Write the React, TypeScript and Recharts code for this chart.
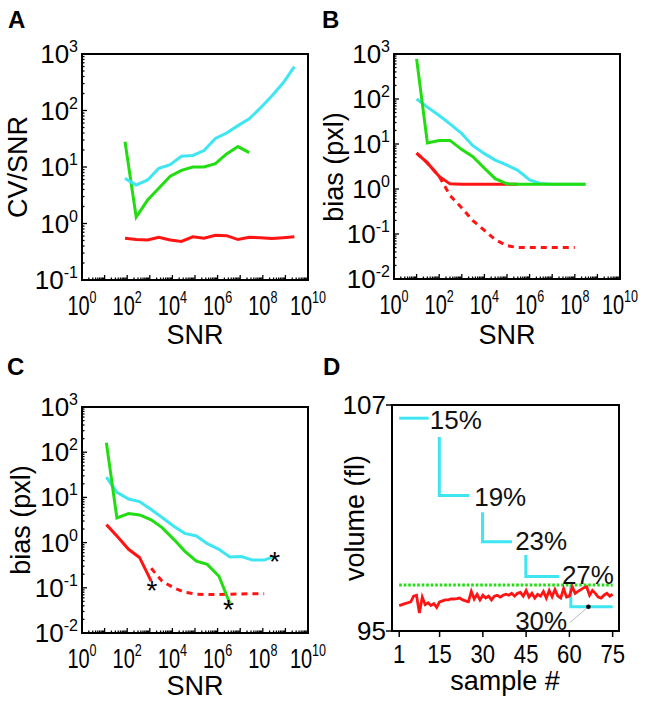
import { ComposedChart, Line, Scatter, XAxis, YAxis, ReferenceArea } from 'recharts';

const FONT = '"Liberation Sans", Arial, Helvetica, sans-serif';
const CYAN = '#3ee6f2';
const GREEN = '#22dd11';
const RED = '#ff1414';

// A: CV/SNR vs SNR
const snrA = [80, 250, 800, 2500, 8000, 2.5e4, 8e4, 2.5e5, 8e5, 2.5e6, 8e6, 2.5e7, 8e7, 2.5e8, 8e8, 2.5e9];
const cvCyanA = [6.3, 4.8, 5.9, 9.5, 11, 15.5, 16, 19.5, 32, 40, 54, 71, 112, 180, 310, 600];
const cvGreenA = [28, 1.3, 2.6, 4.2, 6.9, 8.7, 10, 10, 11.5, 17, 23, 18];
const cvRedA = [0.55, 0.52, 0.51, 0.57, 0.51, 0.48, 0.58, 0.55, 0.62, 0.61, 0.52, 0.57, 0.56, 0.54, 0.56, 0.58];

// B: bias vs SNR
const snrB = [10, 30, 100, 300, 1e3, 3e3, 1e4, 3e4, 1e5, 3e5, 1e6, 3e6, 1e7, 3e7, 1e8, 3e8];
const biasCyanB = [100, 66, 43, 28, 17, 9.3, 6.1, 4.4, 3.4, 2.6, 1.6, 1.33, 1.27, 1.27, 1.27, 1.27];
const biasGreenB = [780, 10.5, 12, 12, 7.5, 5.3, 2.9, 1.7, 1.3, 1.27, 1.27, 1.27, 1.27, 1.27, 1.27, 1.27];
const biasRedB = [6.3, 3.8, 1.9, 1.3, 1.28, 1.28, 1.28, 1.28, 1.28, 1.28];
const biasRedDashB = [6.3, 3.8, 1.9, 0.72, 0.38, 0.2, 0.12, 0.075, 0.055, 0.05, 0.05, 0.05, 0.05, 0.05, 0.05];

// C: bias vs SNR, with end markers
const snrC = [12, 35, 115, 350, 1150, 3500, 11500, 35000, 1.15e5, 3.5e5, 1.15e6, 3.5e6, 1.15e7, 3.5e7, 1.15e8, 3.5e8];
const biasCyanC = [28, 13, 9.2, 8.1, 5.4, 3.6, 2.3, 1.6, 1.4, 0.95, 0.71, 0.48, 0.49, 0.41, 0.41, 0.5];
const biasGreenC = [162, 3.5, 4.4, 4.1, 3.2, 2.15, 1.18, 0.65, 0.39, 0.33, 0.18, 0.045];
const biasRedC = [2.5, 1.4, 0.71, 0.47, 0.14];
const biasRedDashC = [0.27, 0.14, 0.1, 0.08, 0.072, 0.071, 0.071, 0.072, 0.073, 0.074, 0.074];
const starSnrC = [1250, 3e6, 3.4e8];
const starBiasC = [0.115, 0.043, 0.5];

// D: volume per sample
const volumeRed = [
  96.35, 96.4, 96.45, 96.5, 96.55, 96.85, 96.9, 95.95, 96.8, 96.4,
  96.5, 96.35, 96.45, 96.25, 96.55, 96.6, 96.65, 96.65, 96.7, 96.7,
  96.72, 96.75, 96.65, 96.6, 96.55, 97.1, 96.7, 96.95, 96.65, 96.9,
  96.75, 96.85, 96.65, 96.85, 96.9, 96.8, 96.9, 96.95, 96.9, 97.0,
  96.85, 97.0, 97.05, 96.85, 97.15, 96.8, 97.0, 96.75, 96.95, 96.85,
  97.1, 96.75, 97.15, 96.82, 97.2, 96.85, 96.75, 97.25, 96.8, 96.85,
  97.35, 97.0, 97.1, 97.2, 97.3, 97.35, 96.9, 97.15, 97.0, 96.8,
  96.75, 96.9, 97.0, 96.85, 96.95,
];
const volumeGreen = 97.44;
const stepStart = [1, 14.9, 29.9, 44.9, 60.5];
const stepEnd = [11.2, 25.3, 40.1, 56.5, 75];
const stepTop = [106.3, 105.3, 101.3, 99.04, 97.44];
const stepLevel = [106.3, 102.2, 99.74, 97.9, 96.29];
const stepLabels = ['15%', '19%', '23%', '27%', '30%'];
const labelX = [11.6, 27, 41.2, 57.4, 41.2];
const labelY = [106.2, 102.1, 99.8, 97.95, 95.55];
const leaderX = [60.2, 66.6];
const leaderY = [95.45, 96.29];

const xMajors = [1, 10, 100, 1e3, 1e4, 1e5, 1e6, 1e7, 1e8, 1e9, 1e10];
const yMajorsA = [0.1, 1, 10, 100, 1000];
const yMajorsBC = [0.01, 0.1, 1, 10, 100, 1000];
const sampleTicks = [1, 15, 30, 45, 60, 75];
const volumeTicks = [95, 107];

// majors plus 2..9 minors inside each decade
const withMinors = (majors: number[]) =>
  majors.flatMap((m, i) => (i === majors.length - 1 ? [m] : [m, 2 * m, 3 * m, 4 * m, 5 * m, 6 * m, 7 * m, 8 * m, 9 * m]));

const pts = (xs: number[], ys: number[]) => ys.map((y, i) => ({ x: xs[i], y }));

const isMajor = (v: number) => Math.abs(Math.log10(v) - Math.round(Math.log10(v))) < 1e-6;

const LogXTick = (props: any) => {
  const { x, y, payload } = props;
  const v = payload.value;
  const e = Math.round(Math.log10(v));
  const major = isMajor(v);
  return (
    <g>
      <line x1={x} x2={x} y1={y} y2={y - (major ? 5 : 2.5)} stroke="#000" strokeWidth={1.3} />
      {major && e % 2 === 0 && (
        <text transform={`translate(${x},${y + 35}) scale(0.74,1)`} textAnchor="middle" fontSize={27} fontFamily={FONT} fill="#000">
          10<tspan dy={-12} fontSize={17}>{e}</tspan>
        </text>
      )}
    </g>
  );
};

const LogYTick = (props: any) => {
  const { x, y, payload } = props;
  const v = payload.value;
  const e = Math.round(Math.log10(v));
  const major = isMajor(v);
  return (
    <g>
      <line x1={x} x2={x + (major ? 5 : 2.5)} y1={y} y2={y} stroke="#000" strokeWidth={1.3} />
      {major && (
        <text x={x - 4} y={y + 9} textAnchor="end" fontSize={26} fontFamily={FONT} fill="#000">
          10<tspan dy={-11} fontSize={16}>{e}</tspan>
        </text>
      )}
    </g>
  );
};

const SampleTick = (props: any) => {
  const { x, y, payload } = props;
  return (
    <g>
      <line x1={x} x2={x} y1={y} y2={y + 6} stroke="#000" strokeWidth={1.5} />
      <text transform={`translate(${x},${y + 32}) scale(0.85,1)`} textAnchor="middle" fontSize={26} fontFamily={FONT} fill="#000">
        {payload.value}
      </text>
    </g>
  );
};

const VolumeTick = (props: any) => {
  const { x, y, payload } = props;
  return (
    <g>
      <line x1={x - 6} x2={x} y1={y} y2={y} stroke="#000" strokeWidth={1.5} />
      <text x={x - 6} y={y + 9} textAnchor="end" fontSize={26} fontFamily={FONT} fill="#000">
        {payload.value}
      </text>
    </g>
  );
};

const Star = (p: any) => (
  <text x={p.cx} y={p.cy + 15} textAnchor="middle" fontSize={28} fontFamily={FONT} fill="#000">*</text>
);

const PctLabel = (p: any) => (
  <text x={p.cx} y={p.cy + 9} textAnchor="start" fontSize={26} fontFamily={FONT} fill="#111">{p.payload.label}</text>
);

const W = 323;
const H = 351;
const WIDE = 350; // left column charts run a little past the midline so 10^10 is not clipped

const LogPanel = ({ width, margin, yMajors, children }: any) => (
  <ComposedChart width={width} height={H} margin={margin}>
    <XAxis type="number" dataKey="x" scale="log" domain={[1, 1e10]} allowDataOverflow ticks={withMinors(xMajors)} interval={0}
      tick={LogXTick} tickSize={0} tickMargin={0} axisLine={false} tickLine={false} height={30} />
    <YAxis type="number" dataKey="y" scale="log" domain={[yMajors[0], yMajors[yMajors.length - 1]]} allowDataOverflow
      ticks={withMinors(yMajors)} interval={0} tick={LogYTick} tickSize={0} tickMargin={0} axisLine={false} tickLine={false} width={40} />
    {children}
    <ReferenceArea x1={1} x2={1e10} y1={yMajors[0]} y2={yMajors[yMajors.length - 1]} fill="none" stroke="#000" strokeWidth={2} ifOverflow="visible" />
  </ComposedChart>
);

const line = (data: any[], color: string, dash?: string, width = 3) => (
  <Line data={data} dataKey="y" stroke={color} strokeWidth={width} strokeDasharray={dash} dot={false} activeDot={false}
    isAnimationActive={false} type="linear" />
);

const PanelA = () => (
  <LogPanel width={WIDE} margin={{ top: 54, right: 15 + WIDE - W, bottom: 41, left: 42 }} yMajors={yMajorsA}>
    {line(pts(snrA, cvRedA), RED)}
    {line(pts(snrA, cvGreenA), GREEN)}
    {line(pts(snrA, cvCyanA), CYAN)}
  </LogPanel>
);

const PanelB = () => (
  <LogPanel width={W} margin={{ top: 54, right: 26, bottom: 42, left: 31 }} yMajors={yMajorsBC}>
    {line(pts(snrB, biasRedDashB), RED, '6 5')}
    {line(pts(snrB, biasRedB), RED)}
    {line(pts(snrB, biasCyanB), CYAN)}
    {line(pts(snrB, biasGreenB), GREEN)}
  </LogPanel>
);

const PanelC = () => (
  <LogPanel width={WIDE} margin={{ top: 56, right: 15 + WIDE - W, bottom: 39, left: 42 }} yMajors={yMajorsBC}>
    {line(pts(snrC.slice(4), biasRedDashC), RED, '6 5')}
    {line(pts(snrC, biasRedC), RED)}
    {line(pts(snrC, biasCyanC), CYAN)}
    {line(pts(snrC, biasGreenC), GREEN)}
    <Scatter data={pts(starSnrC, starBiasC)} dataKey="y" shape={Star} isAnimationActive={false} />
  </LogPanel>
);

const PanelD = () => {
  const red = volumeRed.map((v, i) => ({ x: i + 1, y: v }));
  const green = [{ x: 1, y: volumeGreen }, { x: 75, y: volumeGreen }];
  const labels = stepLabels.map((label, i) => ({ x: labelX[i], y: labelY[i], label }));
  return (
    <ComposedChart width={W} height={H} margin={{ top: 54, right: 27, bottom: 41, left: 29 }}>
      <XAxis type="number" dataKey="x" domain={[-1.5, 77.2]} ticks={sampleTicks} interval={0} tick={SampleTick}
        tickSize={0} tickMargin={0} axisLine={false} tickLine={false} height={30} allowDataOverflow />
      <YAxis type="number" dataKey="y" domain={[95, 107]} ticks={volumeTicks} interval={0} tick={VolumeTick}
        tickSize={0} tickMargin={0} axisLine={false} tickLine={false} width={40} allowDataOverflow />
      {stepStart.map((s, i) => (
        <Line key={i} data={[{ x: s, y: stepTop[i] }, { x: s, y: stepLevel[i] }, { x: stepEnd[i], y: stepLevel[i] }]}
          dataKey="y" stroke={CYAN} strokeWidth={3} dot={false} activeDot={false} isAnimationActive={false} type="linear" />
      ))}
      {line(green, GREEN, '2.6 1.9', 3)}
      {line(red, RED, undefined, 2.8)}
      {line(pts(leaderX, leaderY), '#aaa', undefined, 0.8)}
      <Scatter data={[{ x: leaderX[1], y: leaderY[1] }]} dataKey="y" fill="#000" isAnimationActive={false}
        shape={(p: any) => <circle cx={p.cx} cy={p.cy} r={2.3} fill="#000" />} />
      <Scatter data={labels} dataKey="y" shape={PctLabel} isAnimationActive={false} />
      <ReferenceArea x1={-1.5} x2={77.2} y1={95} y2={107} fill="none" stroke="#000" strokeWidth={2} ifOverflow="visible" />
    </ComposedChart>
  );
};

const Title = ({ x, y, children, rotate }: any) => (
  <text transform={`translate(${x},${y})${rotate ? ' rotate(-90)' : ''}`} textAnchor="middle"
    dominantBaseline={rotate ? 'central' : 'auto'} fontSize={27} fontFamily={FONT} fill="#000">{children}</text>
);

const Letter = ({ x, y, children }: any) => (
  <text x={x} y={y} fontSize={24} fontWeight="bold" fontFamily={FONT} fill="#000">{children}</text>
);

export default function App() {
  const cell = (left: number, top: number, width: number) => ({ position: 'absolute' as const, left, top, width, height: H });
  return (
    <div style={{ position: 'absolute', left: 0, top: 0, width: 646, height: 702, background: '#fff', overflow: 'hidden' }}>
      <div style={cell(0, 0, WIDE)}><PanelA /></div>
      <div style={cell(323, 0, W)}><PanelB /></div>
      <div style={cell(0, 351, WIDE)}><PanelC /></div>
      <div style={cell(323, 351, W)}><PanelD /></div>
      <svg width={646} height={702} style={{ position: 'absolute', left: 0, top: 0, pointerEvents: 'none' }}>
        <Letter x={8} y={28}>A</Letter>
        <Letter x={322} y={28}>B</Letter>
        <Letter x={7} y={375}>C</Letter>
        <Letter x={323} y={375}>D</Letter>
        <Title x={18} y={167} rotate>CV/SNR</Title>
        <Title x={334} y={167} rotate>bias (pxl)</Title>
        <Title x={21} y={520} rotate>bias (pxl)</Title>
        <Title x={355} y={518} rotate>volume (fl)</Title>
        <Title x={195} y={344}>SNR</Title>
        <Title x={507} y={344}>SNR</Title>
        <Title x={195} y={695}>SNR</Title>
        <Title x={505} y={690}>sample #</Title>
      </svg>
    </div>
  );
}
